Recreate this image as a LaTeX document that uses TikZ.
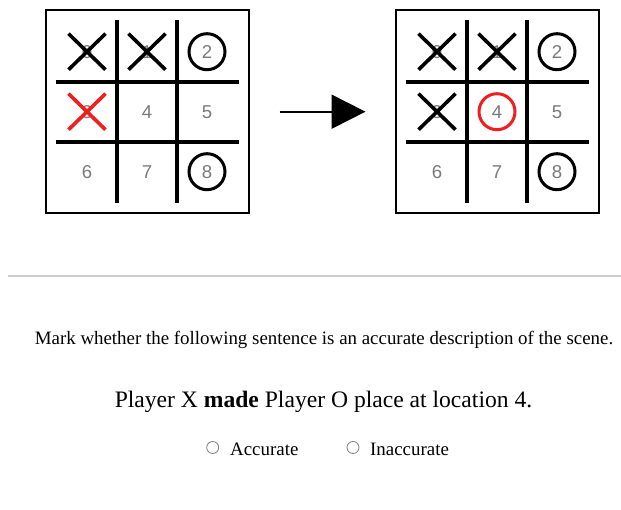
\documentclass[tikz,border=0pt]{standalone}
\usepackage{fontspec}
\setmainfont{Liberation Serif}
\setsansfont{Liberation Sans}
\usetikzlibrary{arrows.meta}
\definecolor{numgray}{HTML}{7A7A7A}
\definecolor{rulegray}{HTML}{CCCCCC}
\definecolor{markred}{HTML}{F01E1E}
\tikzset{
  boardframe/.style={draw, line width=2pt, minimum size=203pt, inner sep=0pt},
  gridline/.style={line width=4pt},
  cellnum/.style={font=\fontsize{18.6}{20}\sffamily, text=numgray, inner sep=0pt, minimum size=60pt},
  xmark/.style={line width=3.6pt},
  omark/.style={draw, circle, line width=3pt, minimum size=36pt, inner sep=0pt},
  bodytext/.style={font=\fontsize{18.9}{22}\selectfont, inner sep=0pt, anchor=base},
  radio/.style={draw=gray, circle, line width=0.8pt, minimum size=12pt, inner sep=0pt},
}
% one board: frame, grid, the nine numbered cells
\newcommand{\tttboard}[3]{%
  \node[boardframe] (#1) at (#2,#3) {};
  \foreach \d in {-30,30} {
    \draw[gridline] ([xshift=\d pt, yshift=91.5pt]#1.center) -- ([xshift=\d pt, yshift=-91.5pt]#1.center);
    \draw[gridline] ([xshift=-91.5pt, yshift=\d pt]#1.center) -- ([xshift=91.5pt, yshift=\d pt]#1.center);
  }
  \foreach \n in {0,...,8} {
    \pgfmathtruncatemacro{\c}{mod(\n,3)}
    \pgfmathtruncatemacro{\r}{div(\n,3)}
    \node[cellnum] (#1\n) at ([xshift={(\c-1)*60pt}, yshift={-(\r-1)*60pt}]#1.center) {\n};
  }
}
\newcommand{\xat}[2]{%
  \draw[xmark,#2] ([shift={(-18.5pt,18pt)}]#1.center) -- ([shift={(18.5pt,-18pt)}]#1.center);
  \draw[xmark,#2] ([shift={(-18.5pt,-18pt)}]#1.center) -- ([shift={(18.5pt,18pt)}]#1.center);
}
\begin{document}
\begin{tikzpicture}[x=1pt, y=-1pt]
  \useasboundingbox (0,0) rectangle (621,510);
  \fill[white] (0,0) rectangle (621,510);

  % board before the move
  \tttboard{L}{147}{111.7}
  \xat{L0}{black}
  \xat{L1}{black}
  \xat{L3}{markred}
  \node[omark] at (L2.center) {};
  \node[omark] at (L8.center) {};

  % board after the move
  \tttboard{R}{497}{111.7}
  \xat{R0}{black}
  \xat{R1}{black}
  \xat{R3}{black}
  \node[omark] at (R2.center) {};
  \node[omark] at (R8.center) {};
  \node[omark, draw=markred] at (R4.center) {};

  % transition arrow
  \draw[line width=2pt, shorten <=30pt, shorten >=29pt,
        -{Triangle[length=34pt, width=34pt]}] (L.east) -- (R.west);

  % separator
  \draw[rulegray, line width=1.5pt] (8,276) -- (621,276);

  % question
  \node[bodytext] (prompt) at (324,345) {Mark whether the following sentence is an accurate description of the scene.};
  \node[bodytext, font=\fontsize{23.6}{27}\selectfont] (claim) at (323.5,407) {Player X \textbf{made} Player O place at location 4.};

  % answer options
  \node[radio] (r1) at (212.7,447.5) {};
  \node[bodytext, anchor=base west] (a1) at (230,455) {Accurate};
  \node[radio] (r2) at (353,447.5) {};
  \node[bodytext, anchor=base west] (a2) at (370,455) {Inaccurate};
\end{tikzpicture}
\end{document}
